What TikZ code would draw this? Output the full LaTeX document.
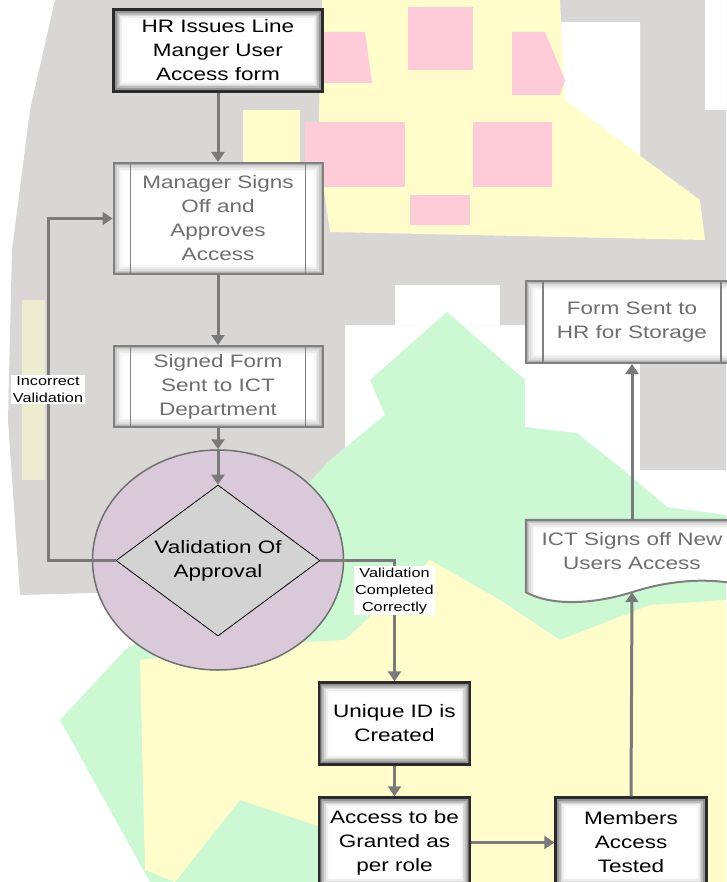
\documentclass[tikz,border=0pt]{standalone}
\usepackage{fontspec}
\setmainfont{Liberation Sans}[FakeStretch=1.25]
\usetikzlibrary{arrows.meta,shapes.geometric}
\pgfdeclarelayer{back}
\pgfsetlayers{back,main}

\definecolor{wmgrey}{HTML}{D9D7D5}
\definecolor{wmpink}{HTML}{FECCD9}
\definecolor{wmyellow}{HTML}{FFFDCC}
\definecolor{wmgreen}{HTML}{CCF8D3}
\definecolor{flowgrey}{HTML}{7A7A7A}
\definecolor{boxedge}{HTML}{2B2B2B}
\definecolor{procedge}{HTML}{808080}
\definecolor{proctext}{HTML}{6E6E6E}
\definecolor{ellfill}{HTML}{D9C9D9}
\definecolor{elledge}{HTML}{707070}
\definecolor{diafill}{HTML}{D3D3D3}

\newcommand{\boxfnt}{\fontsize{18}{24}\selectfont}
\newcommand{\tagfnt}{\fontsize{13}{17}\selectfont}

\begin{document}
\begin{tikzpicture}[x=1pt,y=-1pt,
  vignette/.style={path picture={
    \foreach \k in {0,...,6}{
      \pgfmathsetmacro{\shd}{#1*(1-\k/6)^2}
      \fill[black!\shd] ([shift={(\k*1.7pt,-\k*1.7pt)}]path picture bounding box.north west)
        rectangle ([shift={(-\k*1.7pt,\k*1.7pt)}]path picture bounding box.south east);
    }}},
  mainbox/.style={rectangle,draw=boxedge,line width=2.4pt,vignette=60,
    minimum width=151pt,minimum height=82pt,inner sep=2pt,align=center,font=\boxfnt},
  procbox/.style={rectangle,draw=procedge,line width=2pt,vignette=30,
    minimum width=209pt,inner sep=2pt,align=center,font=\boxfnt,text=proctext},
  flow/.style={draw=flowgrey,line width=3pt,-{Triangle[width=13pt,length=10pt]}},
  tag/.style={fill=white,inner sep=1.5pt,align=center,font=\tagfnt}]

\useasboundingbox (0,0) rectangle (726,882);

% faded crest behind the chart
\begin{pgfonlayer}{back}
 \fill[wmgrey] (55,0) -- (726,0) -- (726,470) -- (640,470) -- (640,325) -- (345,325)
   -- (345,470) -- (210,590) -- (20,595) -- (8,420) -- (12,250) -- (30,110) -- cycle;
 \fill[white] (560,22) -- (640,22) -- (640,195) -- (600,150) -- (560,95) -- cycle;
 \fill[white] (705,0) rectangle (726,110);
 \fill[white] (395,285) rectangle (500,325);
 \fill[wmyellow] (243,110) rectangle (300,163);
 \fill[wmyellow] (322,0) -- (560,0) -- (565,100) -- (700,200) -- (705,240) -- (330,232)
   -- (318,150) -- cycle;
 \fill[wmyellow!55!wmgrey] (22,300) rectangle (45,480);
 \fill[wmpink] (408,7) rectangle (473,70);
 \fill[wmpink] (320,32) -- (365,32) -- (372,83) -- (320,83) -- cycle;
 \fill[wmpink] (512,32) -- (545,32) -- (565,80) -- (560,95) -- (512,95) -- cycle;
 \fill[wmpink] (305,122) rectangle (405,187);
 \fill[wmpink] (473,122) rectangle (552,187);
 \fill[wmpink] (410,195) rectangle (470,225);
 \fill[wmgreen] (447,312) -- (525,380) -- (525,427) -- (577,433) -- (627,473) -- (667,507)
   -- (726,515) -- (726,882) -- (150,882) -- (60,720) -- (125,650) -- (200,600)
   -- (330,460) -- (385,415) -- (370,380) -- cycle;
 \fill[wmyellow] (140,660) -- (250,645) -- (345,640) -- (430,560) -- (500,600) -- (560,640)
   -- (650,605) -- (726,600) -- (726,882) -- (340,882) -- (330,830) -- (240,800)
   -- (175,882) -- (145,870) -- cycle;
\end{pgfonlayer}

% nodes
\node[mainbox,minimum width=209pt] (hr) at (218,50.5) {HR Issues Line\\Manger User\\Access form};
\node[procbox,minimum height=111pt] (mgr) at (218,218.5) {Manager Signs\\Off and\\Approves\\Access};
\node[procbox,minimum height=81pt] (sent) at (218,386.5) {Signed Form\\Sent to ICT\\Department};
\node[ellipse,draw=elledge,line width=1.5pt,fill=ellfill,minimum width=251pt,
  minimum height=220pt,inner sep=0pt] (ell) at (218,560) {};
\node[diamond,draw=black,line width=0.8pt,fill=diafill,aspect=1.35,minimum width=204pt,
  minimum height=151pt,inner sep=0pt,align=center,font=\boxfnt] (dia) at (218,560.5) {Validation Of\\Approval};
\node[mainbox] (uid) at (394.5,723.5) {Unique ID is\\Created};
\node[mainbox,minimum height=90pt] (grant) at (394.5,842.5) {Access to be\\Granted as\\per role};
\node[mainbox,minimum height=90pt] (mem) at (631,842.5) {Members\\Access\\Tested};
\node[rectangle,minimum width=212pt,minimum height=62pt,align=center,font=\boxfnt,
  text=proctext] (ict) at (632,551) {ICT Signs off New\\Users Access};
\node[procbox,minimum width=212pt,minimum height=82pt] (form) at (632,322) {Form Sent to\\HR for Storage};

\foreach \n in {mgr,sent,form}{
  \draw[procedge,line width=1.5pt] ([xshift=18pt]\n.north west) -- ([xshift=18pt]\n.south west);
  \draw[procedge,line width=1.5pt] ([xshift=-18pt]\n.north east) -- ([xshift=-18pt]\n.south east);
}

% document shape under the ICT text
\begin{pgfonlayer}{back}
 \draw[procedge,line width=2pt,vignette=30] ([yshift=-10pt]ict.south west) -- (ict.north west)
   -- (ict.north east) -- ([yshift=-2pt]ict.south east) .. controls +(-40,-8) and +(28,-9)
   .. ([yshift=-10pt]ict.south) .. controls +(-32,10) and +(30,16) .. ([yshift=-10pt]ict.south west) -- cycle;
\end{pgfonlayer}

% connectors
\coordinate (backturn) at (48,218.5);
\draw[flow] (hr) -- (mgr);
\draw[flow] (mgr) -- (sent);
\draw[flow] (sent) -- (ell.north);
\draw[flow] (ell.north) -- (dia.north);
\draw[flow] (dia.west) -| node[tag,pos=0.75] {Incorrect\\Validation} (backturn) -- (mgr.west);
\draw[flow] (dia.east) -| node[tag,pos=0.625] {Validation\\Completed\\Correctly} (uid.north);
\draw[flow] (uid) -- (grant);
\draw[flow] (grant) -- (mem);
\draw[flow] (mem.north) -- ([yshift=-10pt]ict.south);
\draw[flow] (ict) -- (form);
\end{tikzpicture}
\end{document}
